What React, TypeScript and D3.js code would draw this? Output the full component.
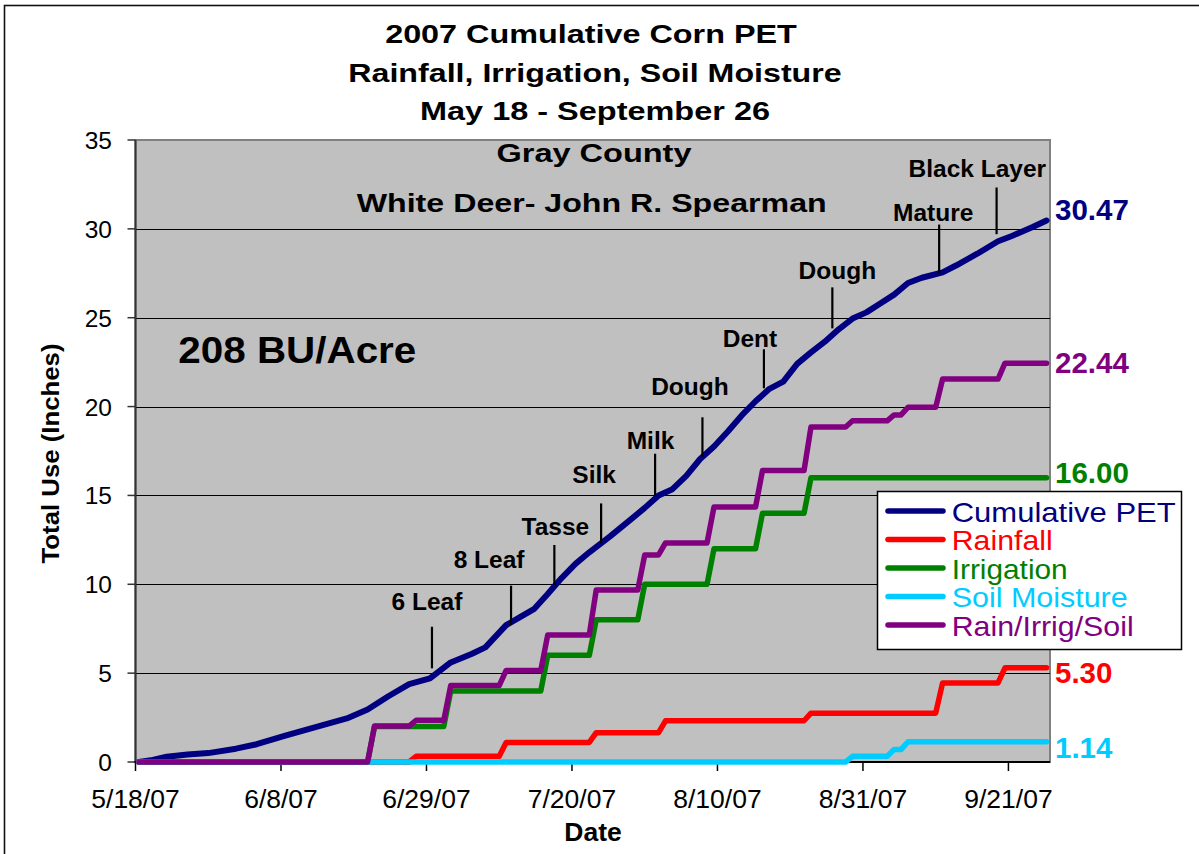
import React from "react";
import * as d3 from "d3";

// ---------- DATA ----------
const titleLines = ["2007 Cumulative Corn PET", "Rainfall, Irrigation, Soil Moisture", "May 18 - September 26"];
const subtitleLines = ["Gray County", "White Deer- John R. Spearman"];
const yieldNote = "208 BU/Acre";

const xTickLabels = ["5/18/07", "6/8/07", "6/29/07", "7/20/07", "8/10/07", "8/31/07", "9/21/07"];
const yTicks = [0, 5, 10, 15, 20, 25, 30, 35];

const petSeries: [string, number][] = [
  ["5/18", 0], ["5/20", 0.12], ["5/22", 0.3], ["5/25", 0.42], ["5/28", 0.5], ["6/1", 0.75], ["6/4", 1.0],
  ["6/8", 1.47], ["6/13", 2.02], ["6/17", 2.45], ["6/20", 2.95], ["6/23", 3.7], ["6/26", 4.38],
  ["6/29", 4.7], ["7/2", 5.6], ["7/5", 6.08], ["7/7", 6.45], ["7/10", 7.7], ["7/12", 8.15],
  ["7/14", 8.6], ["7/16", 9.45], ["7/18", 10.35], ["7/20", 11.15], ["7/22", 11.8], ["7/25", 12.7],
  ["7/28", 13.65], ["7/30", 14.3], ["8/1", 15.0], ["8/3", 15.35], ["8/5", 16.1], ["8/7", 17.05],
  ["8/9", 17.75], ["8/11", 18.6], ["8/13", 19.5], ["8/15", 20.3], ["8/17", 21.0], ["8/19", 21.4],
  ["8/21", 22.4], ["8/23", 23.05], ["8/25", 23.65], ["8/27", 24.35], ["8/29", 24.95], ["8/31", 25.3],
  ["9/2", 25.8], ["9/4", 26.3], ["9/6", 26.95], ["9/8", 27.25], ["9/11", 27.55], ["9/13", 27.95],
  ["9/16", 28.6], ["9/19", 29.3], ["9/21", 29.6], ["9/24", 30.1], ["9/26", 30.47],
];

const rainfallSeries: [string, number][] = [
  ["5/18", 0], ["6/26", 0], ["6/27", 0.32], ["7/9", 0.32], ["7/10", 1.1], ["7/22", 1.1],
  ["7/23", 1.65], ["8/1", 1.65], ["8/2", 2.32], ["8/22", 2.32], ["8/23", 2.75], ["9/10", 2.75],
  ["9/11", 4.45], ["9/19", 4.45], ["9/20", 5.3], ["9/26", 5.3],
];

const irrigationSeries: [string, number][] = [
  ["5/18", 0], ["6/20", 0], ["6/21", 2], ["7/1", 2], ["7/2", 4], ["7/15", 4], ["7/16", 6],
  ["7/22", 6], ["7/23", 8], ["7/29", 8], ["7/30", 10], ["8/8", 10], ["8/9", 12], ["8/15", 12],
  ["8/16", 14], ["8/22", 14], ["8/23", 16], ["9/26", 16],
];

const soilSeries: [string, number][] = [
  ["5/18", 0], ["8/28", 0], ["8/29", 0.32], ["9/3", 0.32], ["9/4", 0.7], ["9/5", 0.7],
  ["9/6", 1.14], ["9/26", 1.14],
];

const totalSeries: [string, number][] = [
  ["5/18", 0], ["6/20", 0], ["6/21", 2.02], ["6/26", 2.02], ["6/27", 2.35], ["7/1", 2.35],
  ["7/2", 4.3], ["7/9", 4.3], ["7/10", 5.15], ["7/15", 5.15], ["7/16", 7.15], ["7/22", 7.15],
  ["7/23", 9.68], ["7/29", 9.68], ["7/30", 11.65], ["8/1", 11.65], ["8/2", 12.33], ["8/8", 12.33],
  ["8/9", 14.35], ["8/15", 14.35], ["8/16", 16.4], ["8/22", 16.4], ["8/23", 18.85], ["8/28", 18.85],
  ["8/29", 19.2], ["9/3", 19.2], ["9/4", 19.53], ["9/5", 19.53], ["9/6", 19.96], ["9/10", 19.96],
  ["9/11", 21.55], ["9/19", 21.55], ["9/20", 22.44], ["9/26", 22.44],
];

const seriesNames = ["Cumulative PET", "Rainfall", "Irrigation", "Soil Moisture", "Rain/Irrig/Soil"];
const seriesColors = ["#000080", "#FF0000", "#008000", "#00CCFF", "#800080"];
const seriesData = [petSeries, rainfallSeries, irrigationSeries, soilSeries, totalSeries];
const endLabels = ["30.47", "5.30", "16.00", "1.14", "22.44"];

const stageNames = ["6 Leaf", "8 Leaf", "Tasse", "Silk", "Milk", "Dough", "Dent", "Dough", "Mature", "Black Layer"];
const stageTimes = [
  "2007-06-29T19", "2007-07-11T05", "2007-07-17T11", "2007-07-24T05", "2007-08-01T00",
  "2007-08-07T20", "2007-08-16T17", "2007-08-26T14", "2007-09-11T00", "2007-09-19T07",
];
const stageBaseValues = [5.27, 7.71, 9.96, 12.3, 15.0, 17.18, 21.03, 24.4, 27.5, 29.7];

// ---------- LAYOUT ----------
const W = 1199, H = 854;
const M = { left: 135.5, right: 1050, top: 140, bottom: 762 };
const FONT = "'Liberation Sans', Arial, Helvetica, sans-serif";
const stageLayout = [
  { len: 41.6, dx: -5, dy: -16.7 },
  { len: 39.3, dx: -22, dy: -17.4 },
  { len: 40, dx: 1, dy: -10 },
  { len: 40, dx: -7, dy: -20 },
  { len: 41.7, dx: -4.6, dy: -5 },
  { len: 39.4, dx: -12.5, dy: -22 },
  { len: 39, dx: -14, dy: -2.6 },
  { len: 41, dx: 5, dy: -8 },
  { len: 48.7, dx: -6, dy: -3.3 },
  { len: 46.7, dx: -19.3, dy: -10.6 },
];
const endLabelDy = [-0.6, 14.9, 5.6, 16.6, 10.1];
const legendTextLengths = [224, 101, 116, 176, 182];

const parseDay = d3.timeParse("%m/%d/%Y");
const parseTick = d3.timeParse("%m/%d/%y");
const parseStage = d3.timeParse("%Y-%m-%dT%H");
const atNoon = (s: string) => d3.timeHour.offset(parseDay(s + "/2007") as Date, 12);

export default function App() {
  const x = d3.scaleTime().domain([new Date(2007, 4, 18), new Date(2007, 8, 27)]).range([M.left, M.right]);
  const y = d3.scaleLinear().domain([0, 35]).range([M.bottom, M.top]);
  const line = d3
    .line<[string, number]>()
    .x((d) => x(atNoon(d[0])))
    .y((d) => y(d[1]));

  const tickDates = xTickLabels.map((s) => parseTick(s) as Date);

  return (
    <svg
      width={W}
      height={H}
      style={{ position: "absolute", left: 0, top: 0, background: "#fff" }}
      fontFamily={FONT}
    >
      <rect x={0} y={0} width={W} height={H} fill="#fff" />
      <rect x={4.5} y={5.5} width={W + 20} height={H + 20} fill="none" stroke="#111" strokeWidth={1.6} />

      {/* plot area */}
      <rect x={M.left} y={M.top} width={M.right - M.left} height={M.bottom - M.top} fill="#C0C0C0" stroke="#808080" strokeWidth={2} />
      {yTicks.filter((t) => t > 0 && t < 35).map((t) => (
        <line key={t} x1={M.left} x2={M.right} y1={Math.round(y(t)) + 0.5} y2={Math.round(y(t)) + 0.5} stroke="#000" strokeWidth={1} />
      ))}

      {/* axes */}
      <line x1={M.left} x2={M.left} y1={M.top} y2={M.bottom} stroke="#333" strokeWidth={2} />
      {yTicks.map((t) => (
        <g key={t}>
          <line x1={M.left - 8} x2={M.left} y1={y(t)} y2={y(t)} stroke="#333" strokeWidth={1.5} />
          <text x={112} y={y(t) + 9} textAnchor="end" fontSize={24.5} fill="#000">
            {t}
          </text>
        </g>
      ))}
      <line x1={M.left - 1} x2={M.right} y1={M.bottom} y2={M.bottom} stroke="#000" strokeWidth={2} />
      {tickDates.map((d, i) => (
        <g key={i}>
          <line x1={x(d)} x2={x(d)} y1={M.bottom} y2={M.bottom + 9} stroke="#000" strokeWidth={1.5} />
          <text x={x(d)} y={808} textAnchor="middle" fontSize={26.5} fill="#000">
            {xTickLabels[i]}
          </text>
        </g>
      ))}
      <text x={593} y={841} textAnchor="middle" fontSize={26.5} fontWeight="bold">
        Date
      </text>
      <text
        transform="translate(59,453.5) rotate(-90)"
        textAnchor="middle"
        fontSize={24.5}
        fontWeight="bold"
        textLength={220}
        lengthAdjust="spacingAndGlyphs"
      >
        Total Use (Inches)
      </text>

      {/* titles */}
      {titleLines.map((t, i) => (
        <text
          key={i}
          x={[591, 595, 595][i]}
          y={[43.3, 82.3, 120][i]}
          textAnchor="middle"
          fontSize={25.5}
          fontWeight="bold"
          textLength={[411.7, 493.4, 350][i]}
          lengthAdjust="spacingAndGlyphs"
        >
          {t}
        </text>
      ))}
      {subtitleLines.map((t, i) => (
        <text
          key={i}
          x={[594, 591.7][i]}
          y={[161.7, 211.7][i]}
          textAnchor="middle"
          fontSize={25.5}
          fontWeight="bold"
          textLength={[195, 470][i]}
          lengthAdjust="spacingAndGlyphs"
        >
          {t}
        </text>
      ))}
      <text x={178.3} y={362.7} fontSize={36} fontWeight="bold" textLength={238} lengthAdjust="spacingAndGlyphs">
        {yieldNote}
      </text>

      {/* series */}
      {seriesData.map((s, i) => (
        <path
          key={i}
          d={line(s) as string}
          fill="none"
          stroke={seriesColors[i]}
          strokeWidth={i === 0 ? 6 : 5.5}
          strokeLinejoin="round"
          strokeLinecap="round"
        />
      ))}

      {/* stages */}
      {stageNames.map((n, i) => {
        const sx = x(parseStage(stageTimes[i]) as Date);
        const yb = y(stageBaseValues[i]);
        const L = stageLayout[i];
        const yt = yb - L.len;
        return (
          <g key={i}>
            <line x1={sx} x2={sx} y1={yt} y2={yb} stroke="#000" strokeWidth={2.2} />
            <text x={sx + L.dx} y={yt + L.dy} textAnchor="middle" fontSize={24.5} fontWeight="bold">
              {n}
            </text>
          </g>
        );
      })}

      {/* end labels */}
      {seriesData.map((s, i) => (
        <text
          key={i}
          x={1055}
          y={y(s[s.length - 1][1]) + endLabelDy[i]}
          fontSize={29.5}
          fontWeight="bold"
          fill={seriesColors[i]}
        >
          {endLabels[i]}
        </text>
      ))}

      {/* legend */}
      <g>
        <rect x={877.5} y={491.5} width={304} height={158} fill="#fff" stroke="#000" strokeWidth={1.5} />
        {seriesNames.map((n, i) => {
          const ly = 511 + i * 28.5;
          return (
            <g key={i}>
              <line x1={888} x2={943} y1={ly} y2={ly} stroke={seriesColors[i]} strokeWidth={5.5} strokeLinecap="round" />
              <text
                x={951.7}
                y={ly + 10.5}
                fontSize={27.5}
                fill={seriesColors[i]}
                textLength={legendTextLengths[i]}
                lengthAdjust="spacingAndGlyphs"
              >
                {n}
              </text>
            </g>
          );
        })}
      </g>
    </svg>
  );
}
